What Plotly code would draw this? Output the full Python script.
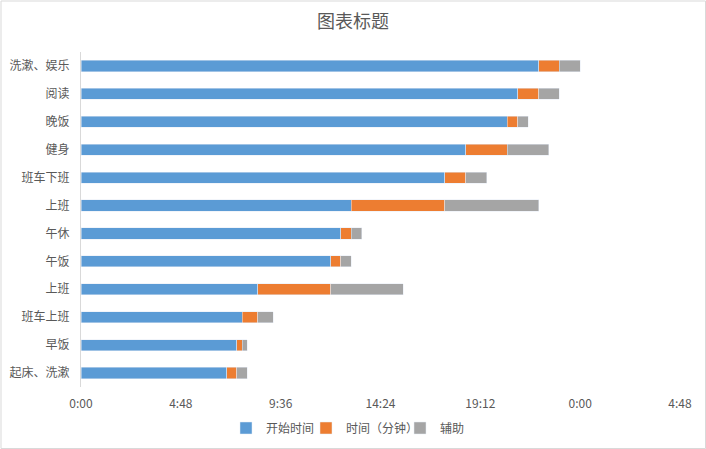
import plotly.graph_objects as go

# activities, bottom to top
activities = ["起床、洗漱", "早饭", "班车上班", "上班", "午饭", "午休",
              "上班", "班车下班", "健身", "晚饭", "阅读", "洗漱、娱乐"]
start_times = ["7:00", "7:30", "7:45", "8:30", "12:00", "12:30",
               "13:00", "17:30", "18:30", "20:30", "21:00", "22:00"]
duration_min = [30, 15, 45, 210, 30, 30, 270, 60, 120, 30, 60, 60]
helper_min = [30, 15, 45, 210, 30, 30, 270, 60, 120, 30, 60, 60]

tick_vals = [0, 0.2, 0.4, 0.6, 0.8, 1.0, 1.2]
tick_labels = ["0:00", "4:48", "9:36", "14:24", "19:12", "0:00", "4:48"]


def to_days(hhmm):
    h, m = hhmm.split(":")
    return (int(h) * 60 + int(m)) / 1440


start_days = [to_days(t) for t in start_times]
duration_days = [m / 1440 for m in duration_min]
helper_days = [m / 1440 for m in helper_min]
rows = list(range(len(activities)))

fig = go.Figure()
fig.add_trace(go.Bar(y=rows, x=start_days, orientation="h", name="开始时间",
                     marker_color="#5B9BD5", legend="legend"))
fig.add_trace(go.Bar(y=rows, x=duration_days, orientation="h", name="时间（分钟）",
                     marker_color="#ED7D31", legend="legend2"))
fig.add_trace(go.Bar(y=rows, x=helper_days, orientation="h", name="辅助",
                     marker_color="#A5A5A5", legend="legend3"))


def legend_at(left_px):
    return dict(orientation="h", x=left_px / 706, xref="container", xanchor="left",
                y=1 - 428 / 449, yref="container", yanchor="middle",
                font=dict(size=12, color="#595959"), itemwidth=30,
                bgcolor="rgba(0,0,0,0)")


fig.update_layout(
    width=706, height=449,
    barmode="stack", bargap=0.6, showlegend=True,
    margin=dict(l=81, r=26, t=52, b=62, autoexpand=False),
    paper_bgcolor="white", plot_bgcolor="white",
    font=dict(family="Noto Sans CJK SC", size=12, color="#595959"),
    title=dict(text="图表标题", x=0.5, xref="container", xanchor="center",
               y=1 - 22 / 449, yref="container", yanchor="middle",
               font=dict(size=18, color="#595959")),
    legend=legend_at(226),
    legend2=legend_at(306),
    legend3=legend_at(400),
    shapes=[dict(type="rect", xref="paper", yref="paper",
                 x0=-80 / 599, x1=624.5 / 599, y0=-61.5 / 335, y1=386 / 335,
                 line=dict(color="#D9D9D9", width=1), layer="below")],
)
fig.update_xaxes(range=[0, 1.2], tickvals=tick_vals, ticktext=tick_labels,
                 showgrid=False, zeroline=False, showline=False,
                 ticks="", ticklabelstandoff=8, automargin=False)
fig.update_yaxes(tickvals=rows, ticktext=activities, range=[-0.5, 11.5],
                 showgrid=False, zeroline=False, showline=True,
                 linecolor="#D9D9D9", linewidth=1, ticks="", ticklabelstandoff=8,
                 automargin=False)

fig.write_html("out.html", config={"displayModeBar": False},
               post_script="document.body.style.margin='0';")
